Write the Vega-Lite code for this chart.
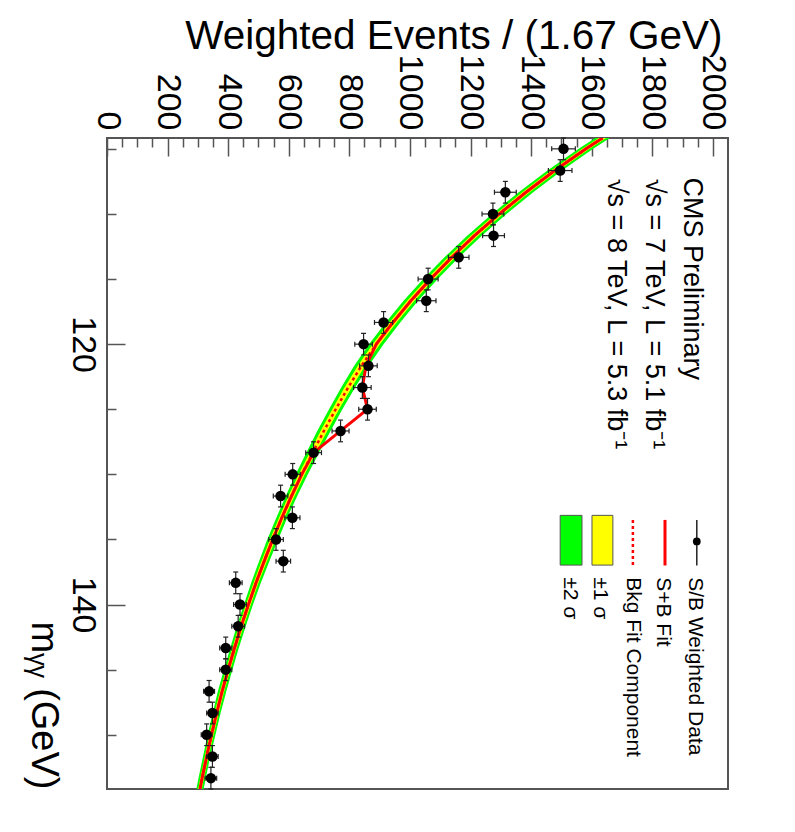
{
  "$schema": "https://vega.github.io/schema/vega-lite/v6.json",
  "width": 621,
  "height": 651,
  "autosize": {"type": "none"},
  "padding": {"left": 107, "top": 138, "right": 67, "bottom": 43},
  "background": "white",
  "config": {
    "font": "Liberation Sans",
    "view": {"stroke": "#555", "strokeWidth": 2},
    "text": {"font": "Liberation Sans", "color": "black"}
  },
  "datasets": {
    "fit": [
      {"m": 104.167, "bkg": 1636, "sb": 1636, "lo2": 1612, "lo1": 1624, "hi1": 1648, "hi2": 1660},
      {"m": 105.0, "bkg": 1581, "sb": 1581, "lo2": 1557, "lo1": 1569, "hi1": 1593, "hi2": 1605},
      {"m": 106.667, "bkg": 1478, "sb": 1478, "lo2": 1454, "lo1": 1466, "hi1": 1490, "hi2": 1502},
      {"m": 108.333, "bkg": 1383, "sb": 1383, "lo2": 1359, "lo1": 1371, "hi1": 1395, "hi2": 1407},
      {"m": 110.0, "bkg": 1295, "sb": 1295, "lo2": 1271, "lo1": 1283, "hi1": 1307, "hi2": 1319},
      {"m": 111.667, "bkg": 1213, "sb": 1213, "lo2": 1189, "lo1": 1201, "hi1": 1225, "hi2": 1237},
      {"m": 113.333, "bkg": 1138, "sb": 1138, "lo2": 1114, "lo1": 1126, "hi1": 1150, "hi2": 1162},
      {"m": 115.0, "bkg": 1068, "sb": 1068, "lo2": 1044, "lo1": 1056, "hi1": 1080, "hi2": 1092},
      {"m": 116.667, "bkg": 1003, "sb": 1003, "lo2": 979, "lo1": 991, "hi1": 1015, "hi2": 1027},
      {"m": 118.333, "bkg": 944, "sb": 944, "lo2": 920, "lo1": 932, "hi1": 956, "hi2": 968},
      {"m": 120.0, "bkg": 889, "sb": 889, "lo2": 865, "lo1": 877, "hi1": 901, "hi2": 913},
      {"m": 121.667, "bkg": 840, "sb": 855, "lo2": 816, "lo1": 828, "hi1": 852, "hi2": 864},
      {"m": 123.333, "bkg": 796, "sb": 843, "lo2": 773, "lo1": 784, "hi1": 808, "hi2": 819},
      {"m": 125.0, "bkg": 755, "sb": 860, "lo2": 733, "lo1": 744, "hi1": 766, "hi2": 777},
      {"m": 126.667, "bkg": 716, "sb": 771, "lo2": 694, "lo1": 705, "hi1": 727, "hi2": 738},
      {"m": 128.333, "bkg": 679, "sb": 682, "lo2": 658, "lo1": 669, "hi1": 689, "hi2": 700},
      {"m": 130.0, "bkg": 643, "sb": 643, "lo2": 623, "lo1": 633, "hi1": 653, "hi2": 663},
      {"m": 131.667, "bkg": 609, "sb": 609, "lo2": 590, "lo1": 599, "hi1": 619, "hi2": 628},
      {"m": 133.333, "bkg": 577, "sb": 577, "lo2": 559, "lo1": 568, "hi1": 586, "hi2": 595},
      {"m": 135.0, "bkg": 547, "sb": 547, "lo2": 529, "lo1": 538, "hi1": 556, "hi2": 565},
      {"m": 136.667, "bkg": 519, "sb": 519, "lo2": 502, "lo1": 510, "hi1": 528, "hi2": 536},
      {"m": 138.333, "bkg": 492, "sb": 492, "lo2": 476, "lo1": 484, "hi1": 500, "hi2": 508},
      {"m": 140.0, "bkg": 467, "sb": 467, "lo2": 452, "lo1": 459, "hi1": 475, "hi2": 482},
      {"m": 141.667, "bkg": 443, "sb": 443, "lo2": 428, "lo1": 435, "hi1": 451, "hi2": 458},
      {"m": 143.333, "bkg": 421, "sb": 421, "lo2": 407, "lo1": 414, "hi1": 428, "hi2": 435},
      {"m": 145.0, "bkg": 400, "sb": 400, "lo2": 386, "lo1": 393, "hi1": 407, "hi2": 414},
      {"m": 146.667, "bkg": 380, "sb": 380, "lo2": 366, "lo1": 373, "hi1": 387, "hi2": 394},
      {"m": 148.333, "bkg": 362, "sb": 362, "lo2": 349, "lo1": 355, "hi1": 369, "hi2": 375},
      {"m": 150.0, "bkg": 345, "sb": 345, "lo2": 332, "lo1": 338, "hi1": 352, "hi2": 358},
      {"m": 151.667, "bkg": 329, "sb": 329, "lo2": 317, "lo1": 323, "hi1": 335, "hi2": 341},
      {"m": 153.333, "bkg": 314, "sb": 314, "lo2": 302, "lo1": 308, "hi1": 320, "hi2": 326},
      {"m": 154.167, "bkg": 307, "sb": 307, "lo2": 295, "lo1": 301, "hi1": 313, "hi2": 319}
    ],
    "pts": [
      {"m": 105.0, "ev": 1507, "lo": 1468, "hi": 1546, "mlo": 104.167, "mhi": 105.833},
      {"m": 106.667, "ev": 1496, "lo": 1457, "hi": 1535, "mlo": 105.833, "mhi": 107.5},
      {"m": 108.333, "ev": 1315, "lo": 1279, "hi": 1351, "mlo": 107.5, "mhi": 109.167},
      {"m": 110.0, "ev": 1274, "lo": 1238, "hi": 1310, "mlo": 109.167, "mhi": 110.833},
      {"m": 111.667, "ev": 1276, "lo": 1240, "hi": 1312, "mlo": 110.833, "mhi": 112.5},
      {"m": 113.333, "ev": 1161, "lo": 1127, "hi": 1195, "mlo": 112.5, "mhi": 114.167},
      {"m": 115.0, "ev": 1060, "lo": 1027, "hi": 1093, "mlo": 114.167, "mhi": 115.833},
      {"m": 116.667, "ev": 1054, "lo": 1022, "hi": 1086, "mlo": 115.833, "mhi": 117.5},
      {"m": 118.333, "ev": 913, "lo": 883, "hi": 943, "mlo": 117.5, "mhi": 119.167},
      {"m": 120.0, "ev": 847, "lo": 818, "hi": 876, "mlo": 119.167, "mhi": 120.833},
      {"m": 121.667, "ev": 863, "lo": 834, "hi": 892, "mlo": 120.833, "mhi": 122.5},
      {"m": 123.333, "ev": 843, "lo": 814, "hi": 872, "mlo": 122.5, "mhi": 124.167},
      {"m": 125.0, "ev": 860, "lo": 831, "hi": 889, "mlo": 124.167, "mhi": 125.833},
      {"m": 126.667, "ev": 771, "lo": 743, "hi": 799, "mlo": 125.833, "mhi": 127.5},
      {"m": 128.333, "ev": 682, "lo": 656, "hi": 708, "mlo": 127.5, "mhi": 129.167},
      {"m": 130.0, "ev": 613, "lo": 588, "hi": 638, "mlo": 129.167, "mhi": 130.833},
      {"m": 131.667, "ev": 573, "lo": 549, "hi": 597, "mlo": 130.833, "mhi": 132.5},
      {"m": 133.333, "ev": 612, "lo": 587, "hi": 637, "mlo": 132.5, "mhi": 134.167},
      {"m": 135.0, "ev": 558, "lo": 534, "hi": 582, "mlo": 134.167, "mhi": 135.833},
      {"m": 136.667, "ev": 582, "lo": 558, "hi": 606, "mlo": 135.833, "mhi": 137.5},
      {"m": 138.333, "ev": 425, "lo": 404, "hi": 446, "mlo": 137.5, "mhi": 139.167},
      {"m": 140.0, "ev": 439, "lo": 418, "hi": 460, "mlo": 139.167, "mhi": 140.833},
      {"m": 141.667, "ev": 433, "lo": 412, "hi": 454, "mlo": 140.833, "mhi": 142.5},
      {"m": 143.333, "ev": 392, "lo": 372, "hi": 412, "mlo": 142.5, "mhi": 144.167},
      {"m": 145.0, "ev": 392, "lo": 372, "hi": 412, "mlo": 144.167, "mhi": 145.833},
      {"m": 146.667, "ev": 337, "lo": 319, "hi": 355, "mlo": 145.833, "mhi": 147.5},
      {"m": 148.333, "ev": 348, "lo": 329, "hi": 367, "mlo": 147.5, "mhi": 149.167},
      {"m": 150.0, "ev": 329, "lo": 311, "hi": 347, "mlo": 149.167, "mhi": 150.833},
      {"m": 151.667, "ev": 348, "lo": 329, "hi": 367, "mlo": 150.833, "mhi": 152.5},
      {"m": 153.333, "ev": 343, "lo": 324, "hi": 362, "mlo": 152.5, "mhi": 154.167}
    ]
  },
  "encoding": {
    "x": {
      "type": "quantitative",
      "scale": {"domain": [0, 2050], "nice": false, "zero": false},
      "axis": {
        "orient": "top",
        "values": [0, 50, 100, 150, 200, 250, 300, 350, 400, 450, 500, 550, 600, 650, 700, 750, 800, 850, 900, 950, 1000, 1050, 1100, 1150, 1200, 1250, 1300, 1350, 1400, 1450, 1500, 1550, 1600, 1650, 1700, 1750, 1800, 1850, 1900, 1950, 2000],
        "format": "d",
        "labelExpr": "datum.value % 200 === 0 ? datum.label : ''",
        "labelAngle": 90,
        "labelAlign": "right",
        "labelBaseline": "middle",
        "labelFont": "Liberation Sans",
        "labelFontSize": 34,
        "labelColor": "black",
        "labelPadding": 26,
        "labelFlush": false,
        "labelOverlap": false,
        "labelBound": false,
        "tickSize": {"condition": {"test": "datum.value % 200 === 0", "value": -18}, "value": -9},
        "tickColor": "#555",
        "tickWidth": 1.5,
        "domain": false,
        "grid": false,
        "title": "Weighted Events / (1.67 GeV)",
        "titleFont": "Liberation Sans",
        "titleFontSize": 40.5,
        "titleFontWeight": "normal",
        "titleColor": "black",
        "titleAngle": 0,
        "titleAlign": "right",
        "titleBaseline": "alphabetic",
        "titleX": 615,
        "titleY": -90
      }
    },
    "y": {
      "type": "quantitative",
      "scale": {"domain": [104.1667, 154.1667], "nice": false, "zero": false, "reverse": true},
      "axis": {
        "orient": "left",
        "values": [105, 110, 115, 120, 125, 130, 135, 140, 145, 150],
        "labelExpr": "datum.value === 120 || datum.value === 140 ? datum.label : ''",
        "labelAngle": 90,
        "labelAlign": "center",
        "labelBaseline": "top",
        "labelFont": "Liberation Sans",
        "labelFontSize": 34,
        "labelColor": "black",
        "labelPadding": 26,
        "labelFlush": false,
        "labelOverlap": false,
        "labelBound": false,
        "tickSize": {"condition": {"test": "datum.value === 120 || datum.value === 140", "value": -18}, "value": -9},
        "tickColor": "#555",
        "tickWidth": 1.5,
        "domain": false,
        "grid": false,
        "title": "mᵧᵧ  (GeV)",
        "titleFont": "Liberation Sans",
        "titleFontSize": 38,
        "titleFontWeight": "normal",
        "titleColor": "black",
        "titleAngle": 90,
        "titleAlign": "right",
        "titleBaseline": "middle",
        "titleX": -65,
        "titleY": 651
      }
    }
  },
  "layer": [
    {
      "data": {"name": "fit"},
      "mark": {"type": "area", "orient": "horizontal", "color": "#00ff00", "opacity": 1, "clip": true},
      "encoding": {
        "y": {"field": "m", "type": "quantitative"},
        "x": {"field": "lo2", "type": "quantitative"},
        "x2": {"field": "hi2"}
      }
    },
    {
      "data": {"name": "fit"},
      "mark": {"type": "area", "orient": "horizontal", "color": "#ffff00", "opacity": 1, "clip": true},
      "encoding": {
        "y": {"field": "m", "type": "quantitative"},
        "x": {"field": "lo1", "type": "quantitative"},
        "x2": {"field": "hi1"}
      }
    },
    {
      "data": {"name": "fit"},
      "mark": {"type": "line", "orient": "horizontal", "color": "#ff0000", "strokeWidth": 2.5, "strokeDash": [3, 3], "clip": true},
      "encoding": {
        "y": {"field": "m"},
        "x": {"field": "bkg"},
        "order": {"field": "m", "type": "quantitative"}
      }
    },
    {
      "data": {"name": "fit"},
      "mark": {"type": "line", "orient": "horizontal", "color": "#ff0000", "strokeWidth": 3, "clip": true},
      "encoding": {
        "y": {"field": "m"},
        "x": {"field": "sb"},
        "order": {"field": "m", "type": "quantitative"}
      }
    },
    {
      "data": {"name": "pts"},
      "mark": {"type": "rule", "color": "#222", "strokeWidth": 1.2},
      "encoding": {
        "y": {"field": "m"},
        "x": {"field": "lo"},
        "x2": {"field": "hi"}
      }
    },
    {
      "data": {"name": "pts"},
      "mark": {"type": "rule", "color": "#222", "strokeWidth": 1.2},
      "encoding": {
        "x": {"field": "ev"},
        "y": {"field": "mlo"},
        "y2": {"field": "mhi"}
      }
    },
    {
      "data": {"name": "pts"},
      "mark": {"type": "tick", "orient": "vertical", "size": 5, "thickness": 1.2, "color": "#222", "opacity": 1},
      "encoding": {"y": {"field": "m"}, "x": {"field": "lo"}}
    },
    {
      "data": {"name": "pts"},
      "mark": {"type": "tick", "orient": "vertical", "size": 5, "thickness": 1.2, "color": "#222", "opacity": 1},
      "encoding": {"y": {"field": "m"}, "x": {"field": "hi"}}
    },
    {
      "data": {"name": "pts"},
      "mark": {"type": "tick", "orient": "horizontal", "size": 5, "thickness": 1.2, "color": "#222", "opacity": 1},
      "encoding": {"y": {"field": "mlo"}, "x": {"field": "ev"}}
    },
    {
      "data": {"name": "pts"},
      "mark": {"type": "tick", "orient": "horizontal", "size": 5, "thickness": 1.2, "color": "#222", "opacity": 1},
      "encoding": {"y": {"field": "mhi"}, "x": {"field": "ev"}}
    },
    {
      "data": {"name": "pts"},
      "mark": {"type": "point", "shape": "circle", "filled": true, "size": 110, "color": "black", "opacity": 1},
      "encoding": {"y": {"field": "m"}, "x": {"field": "ev"}}
    },
    {
      "data": {"values": [{}]},
      "mark": {"type": "text", "angle": 90, "align": "left", "baseline": "middle", "fontSize": 27, "font": "Liberation Sans", "color": "black"},
      "encoding": {"x": {"datum": 1931}, "y": {"datum": 107.2}, "text": {"value": "CMS Preliminary"}}
    },
    {
      "data": {"values": [{}]},
      "mark": {"type": "text", "angle": 90, "align": "left", "baseline": "middle", "fontSize": 27, "font": "Liberation Sans", "color": "black"},
      "encoding": {"x": {"datum": 1806}, "y": {"datum": 107.3}, "text": {"value": "√s = 7 TeV, L = 5.1 fb⁻¹"}}
    },
    {
      "data": {"values": [{}]},
      "mark": {"type": "text", "angle": 90, "align": "left", "baseline": "middle", "fontSize": 27, "font": "Liberation Sans", "color": "black"},
      "encoding": {"x": {"datum": 1680}, "y": {"datum": 107.3}, "text": {"value": "√s = 8 TeV, L = 5.3 fb⁻¹"}}
    },
    {
      "data": {"values": [{}]},
      "mark": {"type": "rect", "color": "#00ff00", "stroke": "#555", "strokeWidth": 1},
      "encoding": {"x": {"datum": 1496}, "x2": {"datum": 1568}, "y": {"datum": 133.15}, "y2": {"datum": 136.97}}
    },
    {
      "data": {"values": [{}]},
      "mark": {"type": "rect", "color": "#ffff00", "stroke": "#555", "strokeWidth": 1},
      "encoding": {"x": {"datum": 1601}, "x2": {"datum": 1670}, "y": {"datum": 133.15}, "y2": {"datum": 136.97}}
    },
    {
      "data": {"values": [{}]},
      "mark": {"type": "rule", "color": "#ff0000", "strokeWidth": 2.5, "strokeDash": [3, 3]},
      "encoding": {"x": {"datum": 1736}, "y": {"datum": 133.5}, "y2": {"datum": 137.0}}
    },
    {
      "data": {"values": [{}]},
      "mark": {"type": "rule", "color": "#ff0000", "strokeWidth": 3},
      "encoding": {"x": {"datum": 1842}, "y": {"datum": 133.5}, "y2": {"datum": 137.0}}
    },
    {
      "data": {"values": [{}]},
      "mark": {"type": "rule", "color": "#222", "strokeWidth": 1.5},
      "encoding": {"x": {"datum": 1947}, "y": {"datum": 133.5}, "y2": {"datum": 137.0}}
    },
    {
      "data": {"values": [{}]},
      "mark": {"type": "point", "shape": "circle", "filled": true, "size": 60, "color": "black", "opacity": 1},
      "encoding": {"x": {"datum": 1947}, "y": {"datum": 135.15}}
    },
    {
      "data": {"values": [{}]},
      "mark": {"type": "text", "angle": 90, "align": "left", "baseline": "middle", "fontSize": 21, "font": "Liberation Sans", "color": "black"},
      "encoding": {"x": {"datum": 1941}, "y": {"datum": 137.9}, "text": {"value": "S/B Weighted Data"}}
    },
    {
      "data": {"values": [{}]},
      "mark": {"type": "text", "angle": 90, "align": "left", "baseline": "middle", "fontSize": 21, "font": "Liberation Sans", "color": "black"},
      "encoding": {"x": {"datum": 1835}, "y": {"datum": 137.9}, "text": {"value": "S+B Fit"}}
    },
    {
      "data": {"values": [{}]},
      "mark": {"type": "text", "angle": 90, "align": "left", "baseline": "middle", "fontSize": 21, "font": "Liberation Sans", "color": "black"},
      "encoding": {"x": {"datum": 1736}, "y": {"datum": 137.9}, "text": {"value": "Bkg Fit Component"}}
    },
    {
      "data": {"values": [{}]},
      "mark": {"type": "text", "angle": 90, "align": "left", "baseline": "middle", "fontSize": 21, "font": "Liberation Sans", "color": "black"},
      "encoding": {"x": {"datum": 1628}, "y": {"datum": 137.9}, "text": {"value": "±1 σ"}}
    },
    {
      "data": {"values": [{}]},
      "mark": {"type": "text", "angle": 90, "align": "left", "baseline": "middle", "fontSize": 21, "font": "Liberation Sans", "color": "black"},
      "encoding": {"x": {"datum": 1529}, "y": {"datum": 137.9}, "text": {"value": "±2 σ"}}
    }
  ]
}
